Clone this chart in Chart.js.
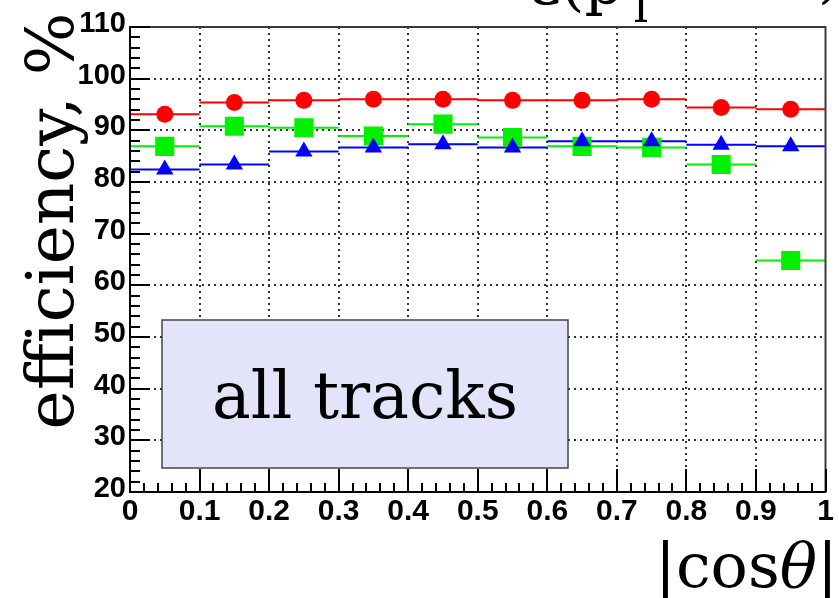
<!DOCTYPE html>
<html>
<head>
<meta charset="utf-8">
<script src="https://cdn.jsdelivr.net/npm/chart.js@4.4.1/dist/chart.umd.min.js"></script>
<style>
  html, body { margin: 0; padding: 0; background: #fff; }
  #wrap { width: 839px; height: 598px; }
</style>
</head>
<body>
<div id="wrap"><canvas id="mycanvas" width="839" height="598"></canvas></div>
<script>
// bins in |cos theta|
var binEdges = [0, 0.1, 0.2, 0.3, 0.4, 0.5, 0.6, 0.7, 0.8, 0.9, 1.0];
var binCenters = [0.05, 0.15, 0.25, 0.35, 0.45, 0.55, 0.65, 0.75, 0.85, 0.95];

// efficiency values, %
var redValues   = [93.1, 95.4, 95.8, 96.0, 96.0, 95.8, 95.8, 96.0, 94.4, 94.1];
var greenValues = [86.9, 90.8, 90.5, 88.9, 91.2, 88.6, 86.9, 86.7, 83.4, 64.8];
var blueValues  = [82.4, 83.4, 85.9, 86.7, 87.3, 86.7, 87.9, 87.9, 87.2, 86.9];

// tick labels
var xTickVals = [0, 0.1, 0.2, 0.3, 0.4, 0.5, 0.6, 0.7, 0.8, 0.9, 1];
var xTickLabels = ['0', '0.1', '0.2', '0.3', '0.4', '0.5', '0.6', '0.7', '0.8', '0.9', '1'];
var yTickVals = [20, 30, 40, 50, 60, 70, 80, 90, 100, 110];
var yTickLabels = ['20', '30', '40', '50', '60', '70', '80', '90', '100', '110'];

var labelText = 'all tracks';
var yTitle = 'efficiency, %';

function steps(vals) {
	var pts = [];
	for (var i = 0; i < vals.length; i++) {
		pts.push({x: binEdges[i], y: vals[i]});
		pts.push({x: binEdges[i + 1], y: vals[i]});
		pts.push({x: binEdges[i + 1], y: null});
	}
	return pts;
}
function points(vals) {
	var pts = [];
	for (var i = 0; i < vals.length; i++) pts.push({x: binCenters[i], y: vals[i]});
	return pts;
}

var rootFrame = {
	id: 'rootFrame',
	beforeDatasetsDraw: function(chart) {
		var ctx = chart.ctx, a = chart.chartArea;
		var xs = chart.scales.x, ys = chart.scales.y;
		ctx.save();
		ctx.strokeStyle = '#333';
		ctx.lineWidth = 2;
		ctx.setLineDash([2, 4]);
		for (var i = 1; i < xTickVals.length - 1; i++) {
			var px = Math.round(xs.getPixelForValue(xTickVals[i]));
			ctx.beginPath(); ctx.moveTo(px, a.top); ctx.lineTo(px, a.bottom); ctx.stroke();
		}
		for (var j = 1; j < yTickVals.length - 1; j++) {
			var py = Math.round(ys.getPixelForValue(yTickVals[j]));
			ctx.beginPath(); ctx.moveTo(a.left, py); ctx.lineTo(a.right, py); ctx.stroke();
		}
		ctx.restore();
	},
	afterDatasetsDraw: function(chart) {
		var ctx = chart.ctx, a = chart.chartArea;
		var xs = chart.scales.x, ys = chart.scales.y;
		ctx.save();
		// frame
		ctx.strokeStyle = '#3a3a3a';
		ctx.lineWidth = 2;
		ctx.strokeRect(a.left, a.top, a.right - a.left, a.bottom - a.top);
		ctx.strokeStyle = '#000';
		ctx.beginPath();
		ctx.moveTo(a.left, a.top); ctx.lineTo(a.left, a.bottom); ctx.lineTo(a.right, a.bottom);
		ctx.stroke();
		// ticks, pointing inwards
		ctx.lineWidth = 2;
		for (var v = 20; v <= 110; v += 2) {
			var py = Math.round(ys.getPixelForValue(v));
			var len = (v % 10 === 0) ? 20 : 10;
			ctx.beginPath(); ctx.moveTo(a.left, py); ctx.lineTo(a.left + len, py); ctx.stroke();
		}
		for (var k = 0; k <= 50; k++) {
			var px = Math.round(xs.getPixelForValue(k / 50));
			var l2 = (k % 5 === 0) ? 23 : 9;
			ctx.beginPath(); ctx.moveTo(px, a.bottom); ctx.lineTo(px, a.bottom - l2); ctx.stroke();
		}
		// "all tracks" pave
		var bx = a.left + 32, by = a.top + 293, bw = 406, bh = 148;
		ctx.fillStyle = '#e3e3f9';
		ctx.fillRect(bx, by, bw, bh);
		ctx.strokeStyle = '#444';
		ctx.lineWidth = 1.5;
		ctx.strokeRect(bx, by, bw, bh);
		ctx.fillStyle = '#000';
		ctx.font = '65px "DejaVu Serif"';
		ctx.textAlign = 'center';
		ctx.textBaseline = 'alphabetic';
		ctx.fillText(labelText, bx + bw / 2, by + 98);
		// y title
		ctx.save();
		ctx.translate(73, 221);
		ctx.rotate(-Math.PI / 2);
		ctx.font = '66px "DejaVu Serif"';
		ctx.fillText(yTitle, 0, 0);
		ctx.restore();
		// x title |cos theta|
		ctx.textAlign = 'left';
		ctx.font = '62px "DejaVu Serif"';
		var tx = 655, ty = 587;
		ctx.fillText('|cos', tx, ty);
		tx += ctx.measureText('|cos').width;
		ctx.font = 'italic 62px "DejaVu Serif"';
		ctx.fillText('\u03b8', tx, ty);
		tx += ctx.measureText('\u03b8').width;
		ctx.font = '62px "DejaVu Serif"';
		ctx.fillText('|', tx, ty);
		// top title, mostly cut off by the canvas edge
		ctx.font = '60px "DejaVu Serif"';
		ctx.fillText('\u03b5(p', 530, 4);
		var w = ctx.measureText('\u03b5(p').width;
		ctx.font = '42px "DejaVu Serif"';
		ctx.fillText('T', 530 + w + 4, 22);
		ctx.font = '60px "DejaVu Serif"';
		ctx.fillText(')', 818, -4);
		ctx.restore();
	}
};

var ctx = document.getElementById('mycanvas');

var chart = new Chart(ctx, {
	type: 'scatter',
	data: {
		datasets: [
			{ label: 'blue', data: points(blueValues), pointStyle: 'triangle', pointRadius: 10, backgroundColor: '#0000ff', borderColor: '#0000ff', borderWidth: 0 },
			{ label: 'green', data: points(greenValues), pointStyle: 'rect', pointRadius: 13.5, backgroundColor: '#00f000', borderColor: '#00f000', borderWidth: 0 },
			{ label: 'red', data: points(redValues), pointStyle: 'circle', pointRadius: 8.5, backgroundColor: '#ff0000', borderColor: '#ff0000', borderWidth: 0 },
			{ type: 'line', label: 'blue bins', data: steps(blueValues), borderColor: '#0000ff', borderWidth: 2, pointRadius: 0, spanGaps: false, fill: false },
			{ type: 'line', label: 'green bins', data: steps(greenValues), borderColor: '#00f000', borderWidth: 2, pointRadius: 0, spanGaps: false, fill: false },
			{ type: 'line', label: 'red bins', data: steps(redValues), borderColor: '#ff0000', borderWidth: 2, pointRadius: 0, spanGaps: false, fill: false }
		]
	},
	options: {
		responsive: false,
		animation: false,
		layout: { padding: { top: 27, right: 11, left: 0, bottom: 0 } },
		plugins: { legend: { display: false }, tooltip: { enabled: false } },
		scales: {
			x: {
				type: 'linear', min: 0, max: 1,
				grid: { display: false, drawTicks: false },
				border: { display: false },
				afterBuildTicks: function(s) { s.ticks = xTickVals.map(function(v) { return {value: v}; }); },
				afterFit: function(s) { s.height = 106; },
				ticks: {
					padding: 2, maxRotation: 0, autoSkip: false, color: '#000',
					font: { family: 'Liberation Sans', weight: 'bold', size: 30 },
					callback: function(v, i) { return xTickLabels[i]; }
				}
			},
			y: {
				type: 'linear', min: 20, max: 110,
				grid: { display: false, drawTicks: false },
				border: { display: false },
				afterBuildTicks: function(s) { s.ticks = yTickVals.map(function(v) { return {value: v}; }); },
				afterFit: function(s) { s.width = 130; },
				ticks: {
					padding: 4, labelOffset: -3, color: '#000',
					font: { family: 'Liberation Sans', weight: 'bold', size: 29 },
					callback: function(v, i) { return yTickLabels[i]; }
				}
			}
		}
	},
	plugins: [rootFrame]
});
</script>
</body>
</html>
